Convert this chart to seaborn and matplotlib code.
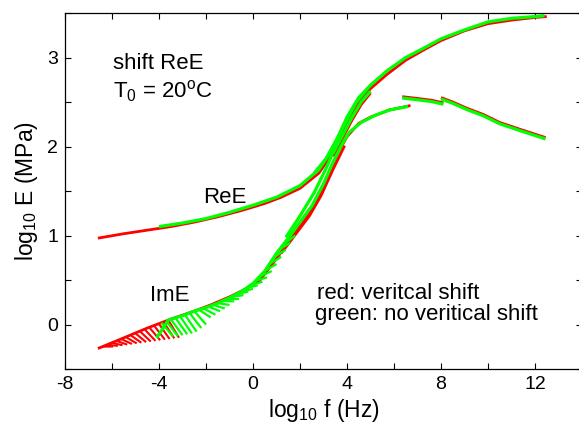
import numpy as np
import pandas as pd
import matplotlib
matplotlib.use("Agg")
import matplotlib.pyplot as plt
import seaborn as sns

# ---------------- data ----------------
# ReE master curve
ree_red_x = [-6.6, -5.5, -4.5, -3.5, -2.5, -1.5, -0.5, 0.5, 1.2, 2.0, 2.8, 3.4, 3.85, 4.4, 5.0, 5.7, 6.5, 7.3, 8.0, 9.0, 10.0, 11.0, 12.0, 12.5]
ree_red_y = [0.97, 1.02, 1.06, 1.10, 1.15, 1.21, 1.28, 1.36, 1.43, 1.53, 1.70, 1.93, 2.16, 2.46, 2.65, 2.81, 2.97, 3.09, 3.19, 3.30, 3.38, 3.42, 3.45, 3.46]
ree_green_x = [-4.0, -3.0, -2.0, -1.0, 0.0, 1.0, 2.0, 2.8, 3.4, 3.8, 4.4, 5.0, 5.7, 6.5, 7.3, 8.0, 9.0, 10.0, 11.0, 12.0, 12.4]
ree_green_y = [1.10, 1.14, 1.19, 1.26, 1.34, 1.43, 1.56, 1.74, 1.98, 2.20, 2.50, 2.69, 2.85, 3.00, 3.11, 3.21, 3.31, 3.40, 3.44, 3.46, 3.47]
ree_strand_a_x = [2.6, 3.1, 3.6, 4.0, 4.5, 4.9]
ree_strand_a_y = [1.70, 1.86, 2.10, 2.33, 2.55, 2.66]
ree_strand_b_x = [3.4, 3.8, 4.2, 4.6, 5.0]
ree_strand_b_y = [1.92, 2.12, 2.32, 2.50, 2.62]
ree_strand_b_red_y = [1.89, 2.09, 2.29, 2.47, 2.60]

# ImE master curve
ime_red_x = [-6.6, -5.5, -4.5, -3.5, -2.5, -1.8, -1.0, -0.3, 0.3, 1.0, 1.6, 2.2, 2.7, 3.2, 3.6, 4.0, 4.5, 5.0, 5.8, 6.7]
ime_red_y = [-0.27, -0.15, -0.04, 0.06, 0.15, 0.22, 0.31, 0.40, 0.50, 0.74, 0.96, 1.18, 1.38, 1.68, 1.92, 2.11, 2.26, 2.33, 2.41, 2.46]
ime_green_x = [-4.1, -3.6, -3.0, -2.5, -2.0, -1.5, -1.0, -0.5, 0.0, 0.5, 1.0, 1.5, 2.0, 2.5, 3.0, 3.4, 3.8, 4.1, 4.6, 5.2, 5.8, 6.6]
ime_green_y = [-0.15, 0.05, 0.10, 0.15, 0.19, 0.24, 0.30, 0.37, 0.46, 0.60, 0.80, 0.97, 1.15, 1.33, 1.58, 1.82, 2.03, 2.16, 2.27, 2.35, 2.41, 2.45]
# low-frequency scatter of the ImE isotherms (hatch-like fringe): start / end of each short trace
red_hatch_x0 = [-6.4, -6.2, -6.0, -5.8, -5.6, -5.4, -5.2, -5.0, -4.8, -4.6, -4.4, -4.2, -4.0, -3.8, -3.6]
red_hatch_y0 = [-0.249, -0.228, -0.206, -0.185, -0.164, -0.143, -0.122, -0.100, -0.079, -0.058, -0.037, -0.016, 0.006, 0.027, 0.048]
red_hatch_x1 = [-5.95, -5.75, -5.55, -5.35, -5.15, -4.95, -4.75, -4.55, -4.35, -4.15, -3.95, -3.75, -3.55, -3.35, -3.15]
red_hatch_y1 = [-0.247, -0.240, -0.233, -0.226, -0.219, -0.212, -0.205, -0.198, -0.191, -0.184, -0.177, -0.170, -0.163, -0.156, -0.149]
green_hatch_x0 = [-3.9, -3.7, -3.5, -3.3, -3.1, -2.9, -2.7, -2.5, -2.3, -2.1, -1.9, -1.7, -1.5, -1.3, -1.1, -0.9, -0.7, -0.5, -0.3, -0.1, 0.1, 0.3, 0.5, 0.7, 0.9, 1.1, 1.3]
green_hatch_y0 = [0.02, 0.04, 0.06, 0.075, 0.09, 0.11, 0.13, 0.15, 0.165, 0.18, 0.20, 0.22, 0.24, 0.265, 0.29, 0.31, 0.34, 0.37, 0.41, 0.44, 0.49, 0.54, 0.60, 0.68, 0.76, 0.84, 0.90]
green_hatch_x1 = [-3.4, -3.2, -3.0, -2.8, -2.6, -2.4, -2.2, -2.0, -1.8, -1.6, -1.4, -1.2, -1.0, -0.8, -0.6, -0.4, -0.2, 0.0, 0.2, 0.4, 0.6, 0.8, 1.0, 1.2, 1.4, 1.6, 1.8]
green_hatch_y1 = [-0.135, -0.13, -0.12, -0.11, -0.10, -0.08, -0.04, 0.0, 0.08, 0.11, 0.15, 0.18, 0.22, 0.26, 0.29, 0.33, 0.37, 0.40, 0.44, 0.48, 0.53, 0.60, 0.68, 0.76, 0.84, 0.92, 1.00]
ime_red_strand_x = [1.2, 1.8, 2.4, 2.9, 3.4, 3.9]
ime_red_strand_y = [0.80, 1.01, 1.22, 1.45, 1.74, 2.01]
ime_green_strand_x = [1.4, 2.0, 2.6, 3.1, 3.6]
ime_green_strand_y = [0.98, 1.22, 1.48, 1.75, 2.05]

# high-frequency isotherm segments
hf1_x = [6.35, 7.0, 7.6, 8.1]
hf1_red_y = [2.56, 2.54, 2.52, 2.49]
hf1_green_y = [2.545, 2.525, 2.505, 2.475]
hf2_x = [8.0, 8.5, 9.1, 9.8, 10.5, 11.4, 12.45]
hf2_red_y = [2.55, 2.50, 2.43, 2.36, 2.27, 2.19, 2.10]
hf2_green_y = [2.535, 2.485, 2.415, 2.345, 2.255, 2.175, 2.085]

segments = [
    ("red", "main", ree_red_x, ree_red_y),
    ("red", "main", ree_strand_b_x, ree_strand_b_red_y),
    ("red", "main", ime_red_x, ime_red_y),
    ("red", "main", ime_red_strand_x, ime_red_strand_y),
    ("red", "main", hf1_x, hf1_red_y),
    ("red", "main", hf2_x, hf2_red_y),
]
for a, b, c, d in zip(red_hatch_x0, red_hatch_y0, red_hatch_x1, red_hatch_y1):
    segments.append(("red", "hatch", [a, c], [b, d]))
segments += [
    ("green", "main", ree_green_x, ree_green_y),
    ("green", "main", ree_strand_a_x, ree_strand_a_y),
    ("green", "main", ree_strand_b_x, ree_strand_b_y),
    ("green", "main", ime_green_x, ime_green_y),
    ("green", "main", ime_green_strand_x, ime_green_strand_y),
    ("green", "main", hf1_x, hf1_green_y),
    ("green", "main", hf2_x, hf2_green_y),
]
for a, b, c, d in zip(green_hatch_x0, green_hatch_y0, green_hatch_x1, green_hatch_y1):
    segments.append(("green", "hatch", [a, c], [b, d]))

rows = []
for i, (c, kind, xs, ys) in enumerate(segments):
    for xv, yv in zip(xs, ys):
        rows.append({"x": xv, "y": yv, "seg": i, "color": c, "kind": kind})
df = pd.DataFrame(rows)

# ---------------- style ----------------
sns.set_style("ticks")
plt.rcParams["font.family"] = ["Liberation Sans", "DejaVu Sans"]
plt.rcParams["mathtext.fontset"] = "custom"
plt.rcParams["mathtext.rm"] = "Liberation Sans"
plt.rcParams["mathtext.it"] = "Liberation Sans:italic"
plt.rcParams["mathtext.default"] = "regular"
for k in ("text.color", "axes.labelcolor", "xtick.color", "ytick.color", "axes.edgecolor"):
    plt.rcParams[k] = "black"

fig = plt.figure(figsize=(5.79, 4.25), dpi=100)
ax = fig.add_axes([65 / 579, 56 / 425, 517 / 579, 356 / 425])

colors = {"red": "#ff0000", "green": "#00ff00"}
for c, kind, lw in (("red", "hatch", 1.5), ("red", "main", 2.0),
                    ("green", "hatch", 1.6), ("green", "main", 2.3)):
    sub = df[(df["color"] == c) & (df["kind"] == kind)]
    sns.lineplot(data=sub, x="x", y="y", units="seg", estimator=None, sort=False,
                 color=colors[c], linewidth=lw, ax=ax, legend=False,
                 solid_capstyle="butt")

ax.set_xlim(-8, 14)
ax.set_ylim(-0.5, 3.5)
xt = np.arange(-8, 15, 2)
ax.set_xticks(xt)
ax.set_xticklabels([str(v) if v % 4 == 0 else "" for v in xt])
yt = np.arange(-0.5, 3.51, 0.5)
ax.set_yticks(yt)
ax.set_yticklabels([str(int(v)) if float(v).is_integer() else "" for v in yt])
ax.tick_params(direction="in", length=4, width=0.8, top=True, right=True,
               labelsize=14, colors="black", pad=5)
for s in ax.spines.values():
    s.set_linewidth(0.9)
    s.set_color("black")
    s.set_visible(True)

ax.set_xlabel(r"log$_{10}$ f (Hz)", fontsize=16.5, labelpad=3)
ax.set_ylabel(r"log$_{10}$ E (MPa)", fontsize=16.5, labelpad=5)

txt = dict(fontsize=16, va="baseline", ha="left")
ax.text(-5.96, 2.876, "shift ReE", **txt)
ax.text(-5.96, 2.55, r"T$_0$ = 20$^o$C", **txt)
ax.text(-2.13, 1.37, "ReE", **txt)
ax.text(-4.38, 0.26, "ImE", **txt)
ax.text(2.72, 0.29, "red: veritcal shift", **txt)
ax.text(2.64, 0.056, "green: no veritical shift", **txt)

fig.savefig("out.png", dpi=100)
